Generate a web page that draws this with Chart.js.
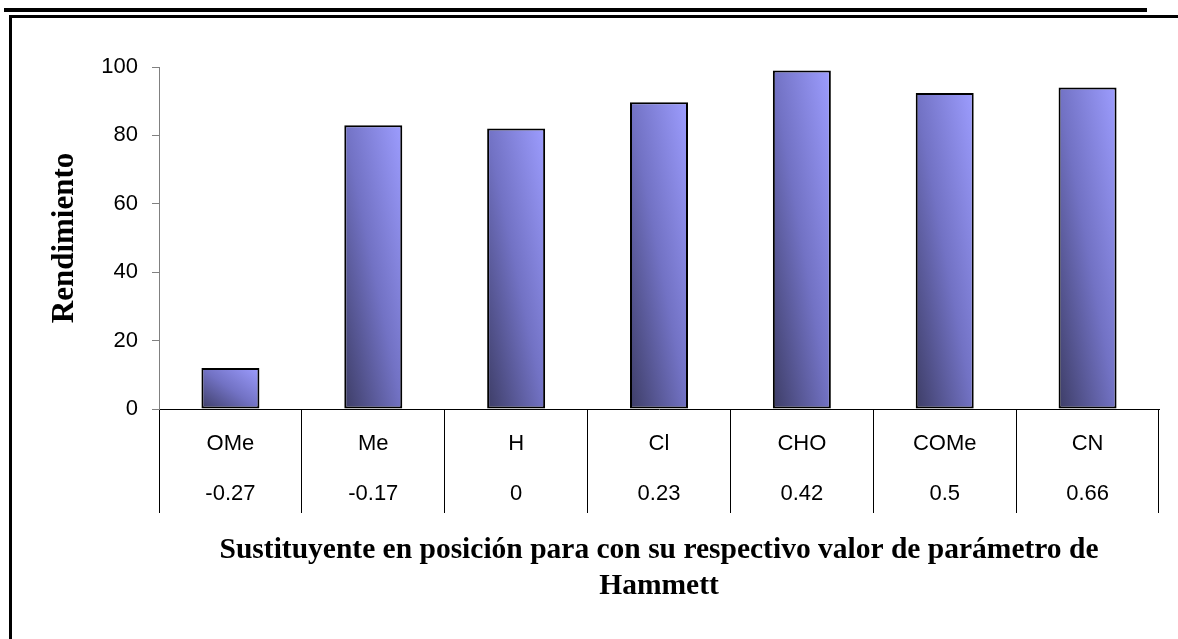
<!DOCTYPE html>
<html>
<head>
<meta charset="utf-8">
<script src="https://cdn.jsdelivr.net/npm/chart.js@4.4.0/dist/chart.umd.min.js"></script>
<style>
  html, body { margin: 0; padding: 0; background: #fff; }
  #wrap { width: 1178px; height: 639px; }
</style>
</head>
<body>
<div id="wrap"><canvas id="c" width="1178" height="639"></canvas></div>
<script>
// sustituyentes en posición para y su parámetro de Hammett
const sustituyentes = ['OMe', 'Me', 'H', 'Cl', 'CHO', 'COMe', 'CN'];
const hammett = ['-0.27', '-0.17', '0', '0.23', '0.42', '0.5', '0.66'];
const rendimiento = [12, 83, 82, 89.7, 99, 92.4, 94];
const yTicks = [0, 20, 40, 60, 80, 100];

const BAR_FRACTION = 0.406;

// degradado diagonal por barra: esquina inferior izquierda oscura, superior derecha clara
function barFill(ctx) {
  const chart = ctx.chart;
  if (!chart.chartArea || ctx.type !== 'data') return '#9999ff';
  const xs = chart.scales.x, ys = chart.scales.y;
  const cx = xs.getPixelForValue(ctx.dataIndex);
  const w = xs.width / sustituyentes.length * BAR_FRACTION;
  const x0 = cx - w / 2;
  const yb = ys.getPixelForValue(0);
  const h = Math.max(1, yb - ys.getPixelForValue(rendimiento[ctx.dataIndex]));
  const k = 2 * w * h / (w * w + h * h);
  const g = chart.ctx.createLinearGradient(x0, yb, x0 + h * k, yb - w * k);
  g.addColorStop(0, '#3d3d66');
  g.addColorStop(0.5, '#7272c4');
  g.addColorStop(1, '#9d9dff');
  return g;
}

// marco de la figura y doble raya superior
const frame = {
  id: 'frame',
  beforeDraw(chart) {
    const c = chart.ctx;
    c.save();
    c.fillStyle = '#000';
    c.fillRect(4, 8, 1143, 4);
    c.fillRect(9, 15, 1169, 3);
    c.fillRect(9, 15, 3, 624);
    c.restore();
  }
};

new Chart(document.getElementById('c'), {
  type: 'bar',
  data: {
    labels: sustituyentes.map((s, i) => [s, hammett[i]]),
    datasets: [{
      data: rendimiento,
      backgroundColor: barFill,
      borderColor: '#000',
      borderWidth: 2,
      borderSkipped: false,
      barPercentage: BAR_FRACTION,
      categoryPercentage: 1
    }]
  },
  options: {
    responsive: false,
    animation: false,
    layout: { padding: { left: 0, top: 67, right: 19, bottom: 0 } },
    plugins: { legend: { display: false }, tooltip: { enabled: false } },
    scales: {
      x: {
        afterFit(s) { s.height = 230; },
        grid: { offset: true, drawOnChartArea: false, drawTicks: true, tickLength: 104, color: '#000', lineWidth: 1 },
        border: { display: true, color: '#000', width: 1 },
        ticks: {
          autoSkip: false, maxRotation: 0, padding: -94, color: '#000',
          font: { family: "'Liberation Sans', Arial, sans-serif", size: 22, lineHeight: '50px' }
        },
        title: {
          display: true,
          text: ['Sustituyente en posición para con su respectivo valor de parámetro de', 'Hammett'],
          color: '#000',
          font: { family: "'Liberation Serif', 'Times New Roman', serif", size: 29.5, weight: 'bold', lineHeight: '36px' },
          padding: { top: 0, bottom: 35 }
        }
      },
      y: {
        min: 0, max: 100,
        afterFit(s) { s.width = 159; },
        afterBuildTicks(s) { s.ticks = yTicks.map(v => ({ value: v })); },
        grid: { drawOnChartArea: false, drawTicks: true, tickLength: 7, color: '#808080' },
        border: { display: true, color: '#808080', width: 1 },
        ticks: {
          padding: 14, color: '#000',
          font: { family: "'Liberation Sans', Arial, sans-serif", size: 22 }
        },
        title: {
          display: true,
          text: 'Rendimiento',
          color: '#000',
          font: { family: "'Liberation Serif', 'Times New Roman', serif", size: 31, weight: 'bold', lineHeight: 1.2 },
          padding: { top: 46, bottom: 0 }
        }
      }
    }
  },
  plugins: [frame]
});
</script>
</body>
</html>
